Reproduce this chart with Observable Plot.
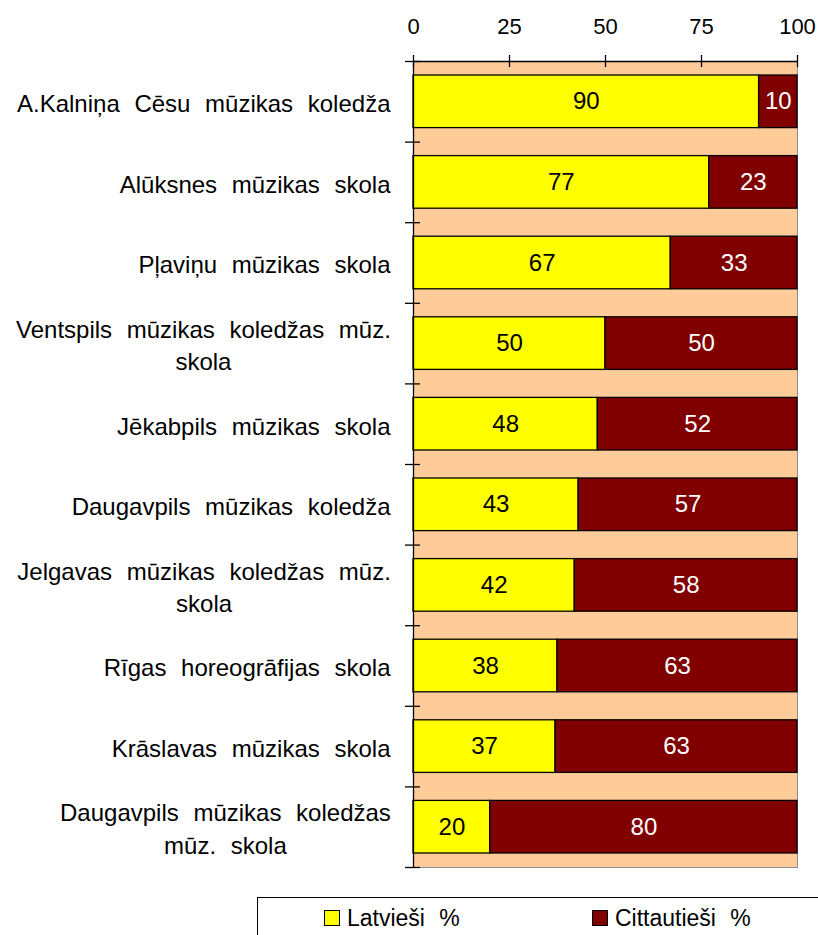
<!DOCTYPE html>
<html>
<head>
<meta charset="utf-8">
<script src="https://cdn.jsdelivr.net/npm/d3@7"></script>
<script src="https://cdn.jsdelivr.net/npm/@observablehq/plot@0.6"></script>
<style>
  html, body { margin: 0; padding: 0; background: #ffffff; }
  body { font-family: "Liberation Sans", Arial, sans-serif; }
  #wrap { position: relative; width: 818px; height: 935px; overflow: hidden; }
  #wrap svg text { word-spacing: 8px; }
  .legend {
    position: absolute; left: 257px; top: 897px; width: 640px; height: 60px;
    border: 1px solid #000; box-sizing: border-box; background: #fff;
    font-size: 23px; word-spacing: 8px; color: #000; line-height: 26px;
  }
  .legend .item { position: absolute; top: 7px; display: flex; align-items: center; }
  .legend .sw { width: 14px; height: 14px; border: 1px solid #000; margin-right: 7px; }
</style>
</head>
<body>
<div id="wrap"></div>
<script>
const categories = [
  "A.Kalniņa Cēsu mūzikas koledža",
  "Alūksnes mūzikas skola",
  "Pļaviņu mūzikas skola",
  "Ventspils mūzikas koledžas mūz. skola",
  "Jēkabpils mūzikas skola",
  "Daugavpils mūzikas koledža",
  "Jelgavas mūzikas koledžas mūz. skola",
  "Rīgas horeogrāfijas skola",
  "Krāslavas mūzikas skola",
  "Daugavpils mūzikas koledžas mūz. skola"
];
const categoryLabels = [
  "A.Kalniņa Cēsu mūzikas koledža",
  "Alūksnes mūzikas skola",
  "Pļaviņu mūzikas skola",
  "Ventspils mūzikas koledžas mūz.\nskola",
  "Jēkabpils mūzikas skola",
  "Daugavpils mūzikas koledža",
  "Jelgavas mūzikas koledžas mūz.\nskola",
  "Rīgas horeogrāfijas skola",
  "Krāslavas mūzikas skola",
  "Daugavpils mūzikas koledžas\nmūz. skola"
];
const latviesi    = [90, 77, 67, 50, 48, 43, 42, 37.5, 37, 20];
const cittautiesi = [10, 23, 33, 50, 52, 57, 58, 62.5, 63, 80];
const seriesNames = ["Latvieši %", "Cittautieši %"];
const seriesColors = ["#FFFF00", "#800000"];
const seriesTextColors = ["#000000", "#FFFFFF"];
const xTicks = [0, 25, 50, 75, 100];

// build stacked rows
const rows = [];
categories.forEach((c, i) => {
  const vals = [latviesi[i], cittautiesi[i]];
  let acc = 0;
  vals.forEach((v, s) => {
    rows.push({cat: c, i, series: seriesNames[s], s, value: v, x1: acc, x2: acc + v});
    acc += v;
  });
});
const labelRows = categories.map((c, i) => ({i, label: categoryLabels[i]}));
const boundaries = d3.range(categories.length + 1);

const chart = Plot.plot({
  width: 818,
  height: 880,
  marginLeft: 413,
  marginRight: 21,
  marginTop: 61,
  marginBottom: 13,
  style: {fontFamily: "'Liberation Sans', Arial, sans-serif", fontSize: "22px", background: "transparent", overflow: "visible"},
  x: {domain: [0, 100], label: null, axis: null},
  y: {domain: [0, categories.length], reverse: true, axis: null, label: null},
  color: {domain: seriesNames, range: seriesColors},
  marks: [
    Plot.frame({fill: "#FFCC99", stroke: "#8c8c8c"}),
    Plot.rectX(rows, {
      x1: "x1", x2: "x2", y1: "i", y2: d => d.i + 1,
      insetTop: 14, insetBottom: 14,
      fill: "series", stroke: "#000", strokeWidth: 1.3
    }),
    Plot.ruleX([0], {stroke: "#000", strokeWidth: 1.3}),
    Plot.ruleY([0], {stroke: "#000", strokeWidth: 1.3}),
    Plot.ruleY(boundaries, {y: d => d, x1: 0, x2: 0, insetLeft: -8, insetRight: -7, stroke: "#000", strokeWidth: 1.3}),
    Plot.ruleX(xTicks, {x: d => d, y1: 0, y2: 0, insetTop: -6, insetBottom: -6, stroke: "#000", strokeWidth: 1.3}),
    Plot.axisX({anchor: "top", ticks: xTicks, tickFormat: d => String(d), tickSize: 0, tickPadding: 28, fontSize: 22, fill: "#000"}),
    ...seriesNames.map((name, s) => Plot.text(rows.filter(r => r.s === s), {
      x: d => (d.x1 + d.x2) / 2, y: d => d.i + 0.5,
      text: d => String(Math.round(d.value)),
      fill: seriesTextColors[s], fontSize: 24
    })),
    Plot.text(labelRows, {
      frameAnchor: "left", y: d => d.i + 0.5, text: "label",
      textAnchor: "end", dx: -23, fontSize: 24, lineHeight: 1.35, fill: "#000"
    })
  ]
});

const wrap = document.getElementById("wrap");
wrap.appendChild(chart);

// center multi-line category labels as blocks, right-aligned
for (const t of chart.querySelectorAll("text")) {
  const spans = t.querySelectorAll("tspan");
  if (spans.length < 2) continue;
  const bb = t.getBBox();
  const cx = bb.x + bb.width / 2;
  t.setAttribute("text-anchor", "middle");
  spans.forEach(sp => sp.setAttribute("x", cx));
}

// legend
const legend = document.createElement("div");
legend.className = "legend";
const legendLefts = [66, 334];
seriesNames.forEach((name, s) => {
  const item = document.createElement("div");
  item.className = "item";
  item.style.left = legendLefts[s] + "px";
  const sw = document.createElement("span");
  sw.className = "sw";
  sw.style.background = seriesColors[s];
  const tx = document.createElement("span");
  tx.textContent = name;
  item.append(sw, tx);
  legend.appendChild(item);
});
wrap.appendChild(legend);
</script>
</body>
</html>
